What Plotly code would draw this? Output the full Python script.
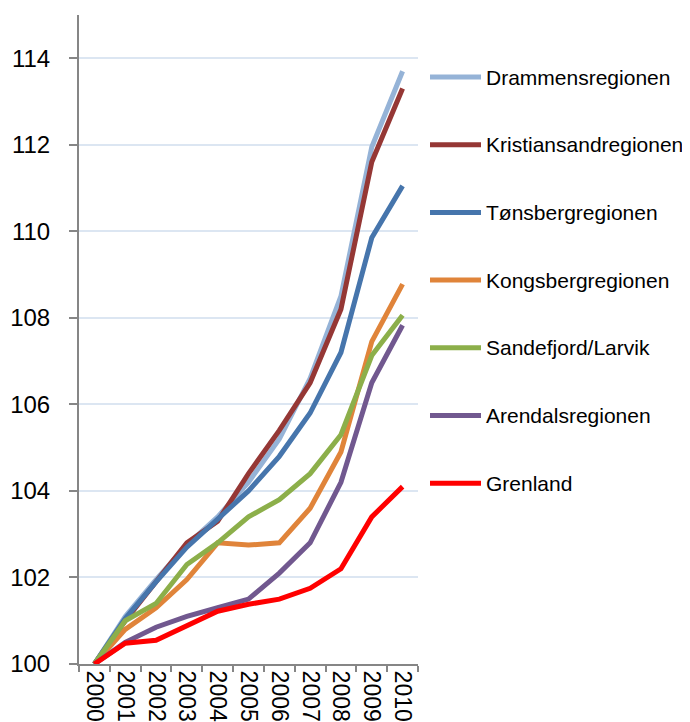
import plotly.graph_objects as go

years = ["2000", "2001", "2002", "2003", "2004", "2005", "2006", "2007", "2008", "2009", "2010"]

drammens = [100, 101.1, 101.95, 102.75, 103.4, 104.2, 105.2, 106.6, 108.5, 111.95, 113.7]
kristiansand = [100, 101.0, 101.9, 102.8, 103.3, 104.4, 105.4, 106.5, 108.2, 111.6, 113.3]
tonsberg = [100, 101.05, 101.9, 102.7, 103.35, 104.0, 104.8, 105.8, 107.2, 109.85, 111.05]
kongsberg = [100, 100.8, 101.3, 101.95, 102.8, 102.75, 102.8, 103.6, 104.9, 107.45, 108.78]
sandefjord = [100, 101.0, 101.4, 102.3, 102.8, 103.4, 103.8, 104.4, 105.3, 107.13, 108.06]
arendal = [100, 100.5, 100.85, 101.1, 101.3, 101.5, 102.1, 102.8, 104.2, 106.5, 107.83]
grenland = [100, 100.48, 100.55, 100.9, 101.22, 101.38, 101.5, 101.75, 102.2, 103.4, 104.1]

names = ["Drammensregionen", "Kristiansandregionen", "Tønsbergregionen",
         "Kongsbergregionen", "Sandefjord/Larvik", "Arendalsregionen", "Grenland"]
series = [drammens, kristiansand, tonsberg, kongsberg, sandefjord, arendal, grenland]
colors = ["#95B3D7", "#953735", "#4675AC", "#E0843A", "#8CAF4A", "#71588F", "#FF0000"]

y_ticks = [100, 102, 104, 106, 108, 110, 112, 114]

FONT = "Liberation Sans, Arial, sans-serif"

fig = go.Figure()
for n, s, c in zip(names, series, colors):
    fig.add_trace(go.Scatter(
        x=years, y=s, name=n, mode="lines",
        line=dict(color=c, width=5),
        showlegend=False,
    ))

# manual legend (right of plot area)
plot_w = 339.0
plot_h = 649.0
leg_top_px = 62.0
leg_step_px = 67.7
for i, (n, c) in enumerate(zip(names, colors)):
    yp = 1 - (leg_top_px + i * leg_step_px) / plot_h
    fig.add_shape(type="line", xref="paper", yref="paper",
                  x0=(349 + 2) / plot_w, x1=(404 - 2) / plot_w, y0=yp, y1=yp,
                  line=dict(color=c, width=5))
    fig.add_annotation(xref="paper", yref="paper", x=405 / plot_w, y=yp,
                       xanchor="left", yanchor="middle", text=n, showarrow=False,
                       font=dict(size=21, family=FONT, color="#000000"))

fig.update_layout(
    width=682, height=714,
    margin=dict(l=71, r=272, t=7, b=58),
    paper_bgcolor="white", plot_bgcolor="white",
    font=dict(family=FONT, color="#000000"),
    showlegend=False,
)
fig.update_xaxes(
    type="category", tickangle=90, showgrid=False,
    showline=True, linecolor="#868686", linewidth=2,
    ticks="outside", ticklen=6, tickcolor="#868686", tickwidth=1.5,
    tickson="boundaries",
    tickfont=dict(size=23), automargin=False,
    range=[-0.5, 10.5],
)
fig.update_yaxes(
    range=[100, 115], tickvals=y_ticks, ticktext=[str(v) for v in y_ticks],
    showgrid=True, gridcolor="#DCE6F2", gridwidth=1.5,
    showline=True, linecolor="#868686", linewidth=2,
    ticks="outside", ticklen=8, tickcolor="#868686", tickwidth=1.5,
    tickfont=dict(size=24), zeroline=False, automargin=False,
    ticklabelstandoff=14,
)

fig.write_html("out.html")
